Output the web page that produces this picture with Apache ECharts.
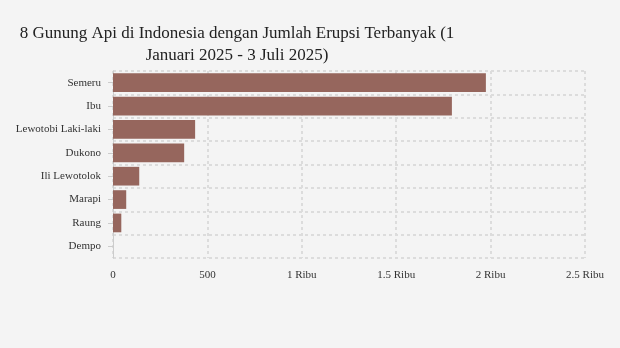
<!DOCTYPE html>
<html>
<head>
<meta charset="utf-8">
<script src="https://cdn.jsdelivr.net/npm/echarts@6/dist/echarts.min.js"></script>
<style>
  html, body { margin: 0; padding: 0; background: #f4f4f4; }
  #chart { width: 620px; height: 348px; }
</style>
</head>
<body>
<div id="chart"></div>
<script>
// Volcanoes, ordered from most to fewest eruptions
const volcanoes = ['Semeru', 'Ibu', 'Lewotobi Laki-laki', 'Dukono', 'Ili Lewotolok', 'Marapi', 'Raung', 'Dempo'];
const eruptions = [1975, 1795, 435, 377, 139, 70, 44, 0];
const xTicks = [0, 500, 1000, 1500, 2000, 2500];
const xTickLabels = ['0', '500', '1 Ribu', '1.5 Ribu', '2 Ribu', '2.5 Ribu'];

const chart = echarts.init(document.getElementById('chart'), null, { renderer: 'canvas' });

const serif = '"Liberation Serif", "DejaVu Serif", serif';
const gridLine = { show: true, lineStyle: { color: '#dcdcdc', type: [3, 3], width: 2 } };

chart.setOption({
  backgroundColor: '#f4f4f4',
  animation: false,
  title: {
    text: '8 Gunung Api di Indonesia dengan Jumlah Erupsi Terbanyak (1\nJanuari 2025 - 3 Juli 2025)',
    left: 232,
    top: 18,
    textAlign: 'center',
    textStyle: {
      fontFamily: serif,
      fontSize: 17,
      fontWeight: 'normal',
      color: '#222',
      lineHeight: 22
    }
  },
  grid: { left: 113, right: 35, top: 71, bottom: 90, containLabel: false },
  xAxis: {
    type: 'value',
    min: xTicks[0],
    max: xTicks[xTicks.length - 1],
    interval: xTicks[1] - xTicks[0],
    axisLine: { show: false },
    axisTick: { show: false },
    splitLine: gridLine,
    axisLabel: {
      margin: 12,
      fontFamily: serif,
      fontSize: 11,
      color: '#333',
      formatter: v => xTickLabels[xTicks.indexOf(v)]
    }
  },
  yAxis: {
    type: 'category',
    data: volcanoes,
    inverse: true,
    axisLine: { show: true, lineStyle: { color: '#cccccc', width: 1 } },
    axisTick: { show: true, alignWithLabel: true, length: 5, lineStyle: { color: '#cccccc' } },
    splitLine: gridLine,
    axisLabel: {
      margin: 12,
      fontFamily: serif,
      fontSize: 11,
      color: '#333'
    }
  },
  series: [{
    type: 'bar',
    data: eruptions,
    barCategoryGap: '20%',
    itemStyle: { color: '#96665d' }
  }]
});
</script>
</body>
</html>
